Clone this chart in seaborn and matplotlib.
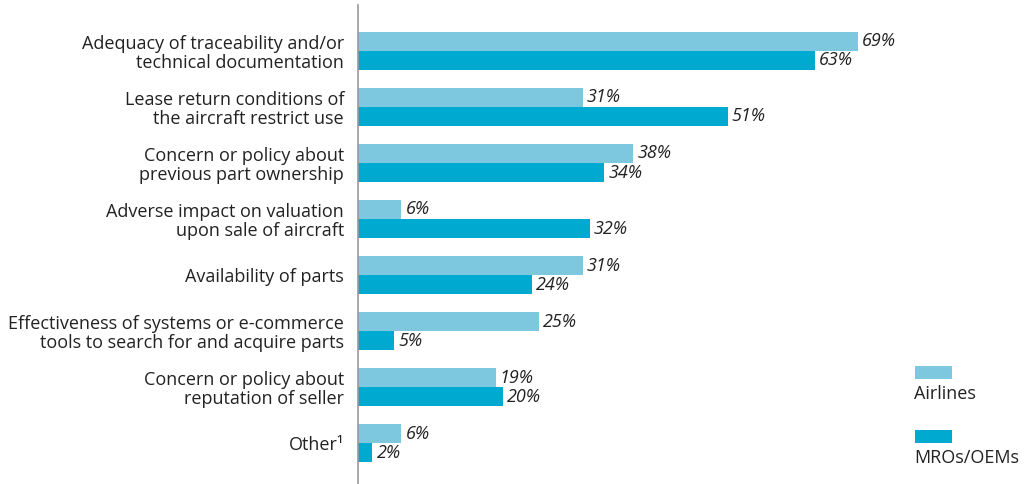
import matplotlib
matplotlib.use("Agg")
import matplotlib.pyplot as plt
from matplotlib.patches import Rectangle
import seaborn as sns
import pandas as pd

categories = [
    "Adequacy of traceability and/or\ntechnical documentation",
    "Lease return conditions of\nthe aircraft restrict use",
    "Concern or policy about\nprevious part ownership",
    "Adverse impact on valuation\nupon sale of aircraft",
    "Availability of parts",
    "Effectiveness of systems or e-commerce\ntools to search for and acquire parts",
    "Concern or policy about\nreputation of seller",
    "Other\u00b9",
]
airlines = [69, 31, 38, 6, 31, 25, 19, 6]
mros_oems = [63, 51, 34, 32, 24, 5, 20, 2]
series = ["Airlines", "MROs/OEMs"]
colors = ["#7EC8DF", "#00A9D0"]

df = pd.DataFrame({
    "category": categories * 2,
    "value": airlines + mros_oems,
    "group": [series[0]] * len(categories) + [series[1]] * len(categories),
})

sns.set_style("white")
plt.rcParams["font.family"] = ["Open Sans", "DejaVu Sans"]

text_color = "#222222"
fs = 13

fig = plt.figure(figsize=(10.29, 4.84), dpi=100)
W, H = 1029, 484
ax = fig.add_axes([358 / W, 0, (W - 358) / W, (484 - 5) / H])

sns.barplot(data=df, y="category", x="value", hue="group", orient="h",
            palette=colors, width=0.68, gap=0, saturation=1, linewidth=0,
            legend=False, ax=ax, errorbar=None)

px_per_unit = 500 / 69
ax.set_xlim(0, (W - 358) / px_per_unit)
ax.set_ylim(7.73, -0.82)

for container in ax.containers:
    ax.bar_label(container, labels=[f"{v:.0f}%" for v in container.datavalues],
                 padding=3, fontsize=fs, fontstyle="italic", color=text_color)

ax.set_xlabel("")
ax.set_ylabel("")
ax.set_xticks([])
ax.tick_params(axis="y", length=0, pad=10, labelsize=fs, labelcolor=text_color)
for lbl in ax.get_yticklabels():
    lbl.set_horizontalalignment("right")
    lbl.set_linespacing(1.05)
for side in ["top", "right", "bottom"]:
    ax.spines[side].set_visible(False)
ax.spines["left"].set_color("#999999")
ax.spines["left"].set_linewidth(1.2)

# legend drawn as stacked swatches with text underneath
legend_items = [(series[0], colors[0], 366), (series[1], colors[1], 430)]
for name, col, ytop in legend_items:
    fig.add_artist(Rectangle((915 / W, 1 - (ytop + 13) / H), 37 / W, 13 / H,
                             transform=fig.transFigure, color=col, lw=0))
    fig.text(914 / W, 1 - (ytop + 28) / H, name, fontsize=fs, color=text_color,
             ha="left", va="center")

fig.savefig("out.png", dpi=100)
